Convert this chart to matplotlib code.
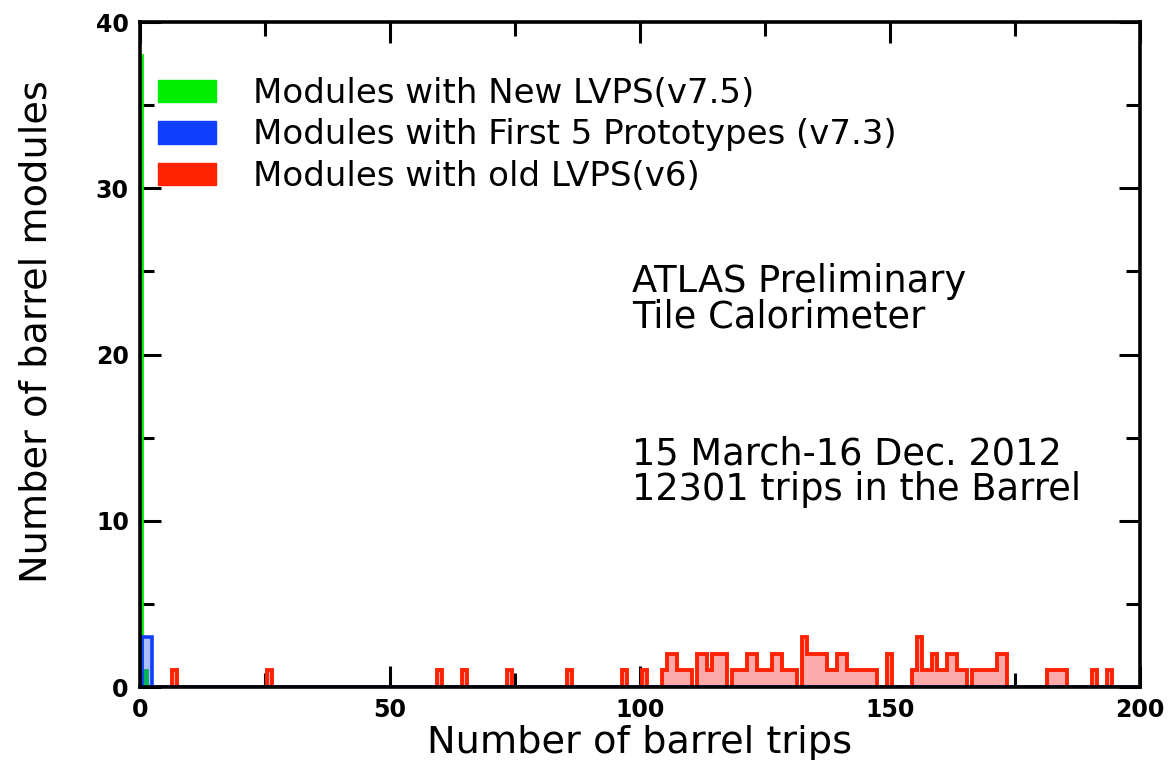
import numpy as np
import matplotlib
matplotlib.use("Agg")
import matplotlib.pyplot as plt
from matplotlib.patches import Patch
from matplotlib.ticker import MultipleLocator

# trips per module, bins centred on integer trip counts
new_trips = [0, 1]
new_counts = [38, 1]

proto_trips = [1, 2]
proto_counts = [3, 3]

old_trips = [7, 26, 60, 65, 74, 86, 97, 101,
             105, 106, 107, 108, 109, 110,
             112, 113, 114, 115, 116, 117,
             119, 120, 121, 122, 123, 124, 125, 126,
             127, 128, 129, 130, 131,
             133, 134, 135, 136, 137, 138, 139, 140, 141,
             142, 143, 144, 145, 146, 147,
             150, 155, 156, 157, 158, 159, 160, 161, 162, 163, 164, 165,
             167, 168, 169, 170, 171, 172, 173,
             182, 183, 184, 185, 191, 194]
old_counts = [1, 1, 1, 1, 1, 1, 1, 1,
              1, 2, 2, 1, 1, 1,
              2, 2, 1, 2, 2, 2,
              1, 1, 1, 2, 2, 1, 1, 1,
              2, 2, 1, 1, 1,
              3, 2, 2, 2, 2, 1, 1, 2, 2,
              1, 1, 1, 1, 1, 1,
              2, 1, 3, 1, 1, 2, 1, 1, 2, 2, 1, 1,
              1, 1, 1, 1, 1, 2, 2,
              1, 1, 1, 1, 1, 1]

labels = ["Modules with New LVPS(v7.5)",
          "Modules with First 5 Prototypes (v7.3)",
          "Modules with old LVPS(v6)"]

GREEN = "#00ee00"
BLUE = "#1040ff"
RED = "#ff2200"
PINK = "#ffaaaa"

edges = np.arange(-0.5, 201.5, 1.0)


def binned(trips, counts):
    h = np.zeros(len(edges) - 1)
    for t, c in zip(trips, counts):
        h[t] = c
    return h


fig = plt.figure(figsize=(11.76, 7.6), dpi=100)
ax = fig.add_axes([0.119, 0.096, 0.850, 0.875])

h_old = binned(old_trips, old_counts)
ax.stairs(h_old, edges, fill=True, color=PINK, zorder=2)
ax.stairs(h_old, edges, color=RED, linewidth=2.8, zorder=3)

h_new = binned(new_trips, new_counts)
ax.stairs(h_new, edges, fill=True, color=GREEN, zorder=4)
ax.stairs(h_new, edges, color=GREEN, linewidth=2.0, zorder=4)

h_proto = binned(proto_trips, proto_counts)
ax.stairs(h_proto, edges, fill=True, color=BLUE, alpha=0.35, zorder=5)
ax.stairs(h_proto, edges, color=BLUE, linewidth=2.6, zorder=6)

ax.set_xlim(0, 200)
ax.set_ylim(0, 40)
ax.xaxis.set_major_locator(MultipleLocator(50))
ax.xaxis.set_minor_locator(MultipleLocator(25))
ax.yaxis.set_major_locator(MultipleLocator(10))
ax.yaxis.set_minor_locator(MultipleLocator(5))
ax.tick_params(which="both", direction="in", top=True, right=True,
               width=2.2, colors="black", labelsize=17, pad=8)
ax.tick_params(which="major", length=15)
ax.tick_params(which="minor", length=10)
for lab in ax.get_xticklabels() + ax.get_yticklabels():
    lab.set_fontweight("bold")
for s in ax.spines.values():
    s.set_linewidth(2.6)
    s.set_zorder(10)

ax.set_xlabel("Number of barrel trips", fontsize=27.5, labelpad=2)
ax.set_ylabel("Number of barrel modules", fontsize=27.5)
ax.yaxis.set_label_coords(-0.085, 0.535)

handles = [Patch(facecolor=GREEN, edgecolor=GREEN),
           Patch(facecolor=BLUE, edgecolor=BLUE),
           Patch(facecolor=RED, edgecolor=RED)]
ax.legend(handles, labels, loc="upper left", bbox_to_anchor=(0.018, 0.9175),
          frameon=False, fontsize=24.5, borderpad=0, borderaxespad=0,
          handlelength=1.7, handleheight=0.65, labelspacing=0.25,
          handletextpad=1.1)

tx = 0.492
ax.text(tx, 0.594, "ATLAS Preliminary", transform=ax.transAxes, fontsize=26.5)
ax.text(tx, 0.540, "Tile Calorimeter", transform=ax.transAxes, fontsize=26.5)
ax.text(tx, 0.334, "15 March-16 Dec. 2012", transform=ax.transAxes, fontsize=26.5)
ax.text(tx, 0.281, "12301 trips in the Barrel", transform=ax.transAxes, fontsize=26.5)

fig.savefig("out.png", dpi=100)
